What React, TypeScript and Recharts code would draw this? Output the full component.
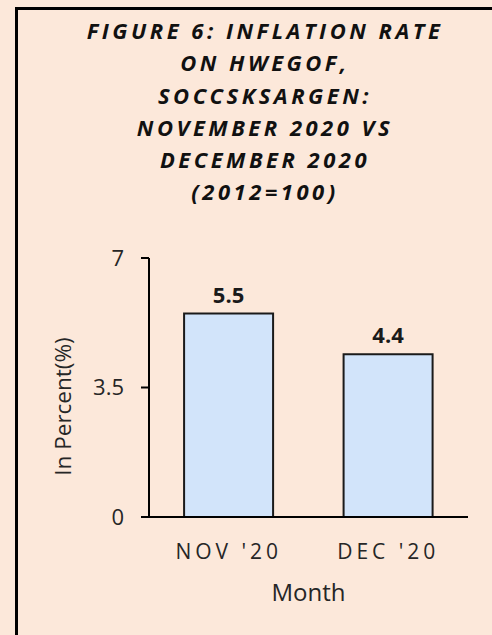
import React from "react";
import { BarChart, Bar, XAxis, YAxis, LabelList } from "recharts";

const titleLines = [
  "FIGURE 6: INFLATION RATE",
  "ON HWEGOF,",
  "SOCCSKSARGEN:",
  "NOVEMBER 2020 VS",
  "DECEMBER 2020",
  "(2012=100)",
];
const months = ["NOV '20", "DEC '20"];
const rates = [5.5, 4.4];
const yTicks = [0, 3.5, 7];

const data = months.map((m, i) => ({ month: m, rate: rates[i] }));

const BG = "#FCE8DA";
const FONT = "'Open Sans', sans-serif";

const YLabel = (props: any) => {
  const vb = props.viewBox || {};
  const cx = vb.x - 27;
  const cy = vb.y + vb.height / 2 + 19;
  return (
    <text
      x={cx}
      y={cy}
      transform={`rotate(-90, ${cx}, ${cy})`}
      textAnchor="middle"
      dominantBaseline="central"
      fontFamily={FONT}
      fontSize={22.5}
      fill="#262626"
    >
      In Percent(%)
    </text>
  );
};

export default function App() {
  return (
    <div
      style={{
        position: "fixed",
        left: 0,
        top: 0,
        width: 492,
        height: 635,
        background: BG,
        overflow: "hidden",
      }}
    >
      <div
        style={{
          position: "absolute",
          left: 15,
          top: 7,
          width: 520,
          height: 700,
          border: "3px solid #000",
          boxSizing: "border-box",
        }}
      />
      <div
        style={{
          position: "absolute",
          left: 30,
          top: 14,
          width: 470,
          textAlign: "center",
          fontFamily: FONT,
          fontWeight: 700,
          fontStyle: "italic",
          fontSize: 22,
          letterSpacing: 3.5,
          lineHeight: "32.3px",
          color: "#111",
        }}
      >
        {titleLines.map((l) => (
          <div key={l}>{l}</div>
        ))}
      </div>
      <div style={{ position: "absolute", left: 0, top: 0 }}>
        <BarChart
          width={492}
          height={635}
          data={data}
          margin={{ top: 258, right: 24, bottom: 28, left: 89 }}
          barCategoryGap="22%"
        >
          <YAxis
            width={60}
            domain={[0, 7]}
            ticks={yTicks}
            interval={0}
            tickSize={8}
            tickLine={{ stroke: "#000", strokeWidth: 2 }}
            axisLine={{ stroke: "#000", strokeWidth: 2 }}
            tick={{ fontFamily: FONT, fontSize: 22, fill: "#262626" }}
            tickMargin={17}
            label={<YLabel />}
          />
          <XAxis
            dataKey="month"
            height={90}
            tickLine={false}
            axisLine={{ stroke: "#000", strokeWidth: 2 }}
            tick={{
              fontFamily: FONT,
              fontSize: 21,
              fill: "#262626",
              letterSpacing: 4,
            }}
            tickMargin={21}
            label={{
              value: "Month",
              position: "insideBottom",
              offset: 6,
              fontFamily: FONT,
              fontSize: 24,
              fill: "#262626",
            }}
          />
          <Bar
            dataKey="rate"
            fill="#D2E4FA"
            stroke="#1a1a1a"
            strokeWidth={2}
            isAnimationActive={false}
          >
            <LabelList
              dataKey="rate"
              position="top"
              offset={11}
              fontFamily={FONT}
              fontSize={22}
              fontWeight={700}
              fill="#1a1a1a"
              formatter={(v: any) => Number(v).toFixed(1)}
            />
          </Bar>
        </BarChart>
      </div>
    </div>
  );
}
